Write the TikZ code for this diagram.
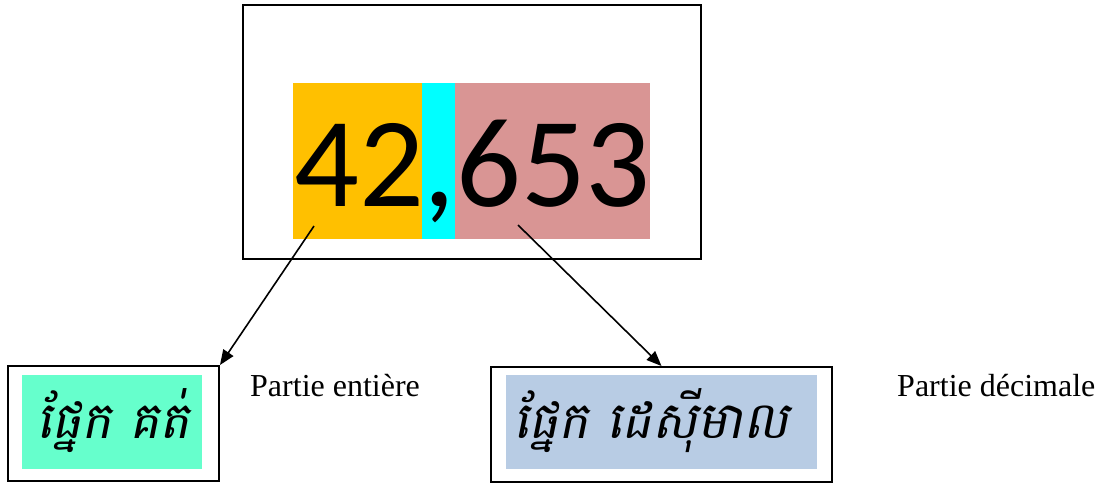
\documentclass[tikz,border=0pt]{standalone}
\usepackage{fontspec}
\setmainfont{Liberation Serif}
\newfontfamily\digitfont{Carlito}
\newfontfamily\khmerfont[Script=Khmer,FakeSlant=0.2]{Battambang}
\usetikzlibrary{arrows.meta}
\definecolor{cOrange}{HTML}{FFC000}
\definecolor{cCyan}{HTML}{00FFFF}
\definecolor{cPink}{HTML}{D99594}
\definecolor{cGreen}{HTML}{66FFCC}
\definecolor{cBlue}{HTML}{B8CCE4}
\tikzset{
  frame/.style={draw=black,line width=2pt,fill=white,inner sep=0pt,anchor=north west},
  band/.style={inner sep=0pt,anchor=north west,draw=none},
  digits/.style={inner sep=0pt,anchor=base west,font=\digitfont\fontsize{128}{128}\selectfont},
  khmer/.style={inner sep=0pt,font=\khmerfont\fontsize{51}{60}\selectfont},
  label/.style={inner sep=0pt,anchor=base west,font=\fontsize{32}{38}\selectfont},
  conn/.style={line width=1.6pt,-{Triangle[length=15pt,width=12pt]}}
}
\begin{document}
\begin{tikzpicture}[x=1pt,y=-1pt]
\useasboundingbox (0,0) rectangle (1100,488);
% top frame
\node[frame,minimum width=458pt,minimum height=254pt] (top) at (242,4) {};
\node[band,fill=cOrange,minimum width=129pt,minimum height=156pt] (ipart) at (293,83) {};
\node[band,fill=cCyan,minimum width=33pt,minimum height=156pt] (sep) at (422,83) {};
\node[band,fill=cPink,minimum width=195pt,minimum height=156pt] (dpart) at (455,83) {};
\node[digits] (n1) at (294,206) {42};
\node[digits] (n2) at (423,206) {,};
\node[digits] (n3) at (456,206) {653};
% bottom boxes
\node[frame,minimum width=211pt,minimum height=115pt] (lbox) at (7,365) {};
\node[band,fill=cGreen,minimum width=180pt,minimum height=94pt] (lfill) at (22,375) {};
\node[khmer,anchor=base west] (ltext) at (36,438) {ផ្នែក គត់};
\node[frame,minimum width=341pt,minimum height=115pt] (rbox) at (490,366) {};
\node[band,fill=cBlue,minimum width=311pt,minimum height=94pt] (rfill) at (506,375) {};
\node[khmer,anchor=base west] (rtext) at (513,438) {ផ្នែក ដេស៊ីមាល};
% labels
\node[label] (llab) at (250,396) {Partie entière};
\node[label] (rlab) at (897,396) {Partie décimale};
% connectors
\coordinate (s1) at (314,226);
\coordinate (s2) at (518,225);
\draw[conn] (s1) -- (lbox.north east);
\draw[conn] (s2) -- (rbox.north);
\end{tikzpicture}
\end{document}
